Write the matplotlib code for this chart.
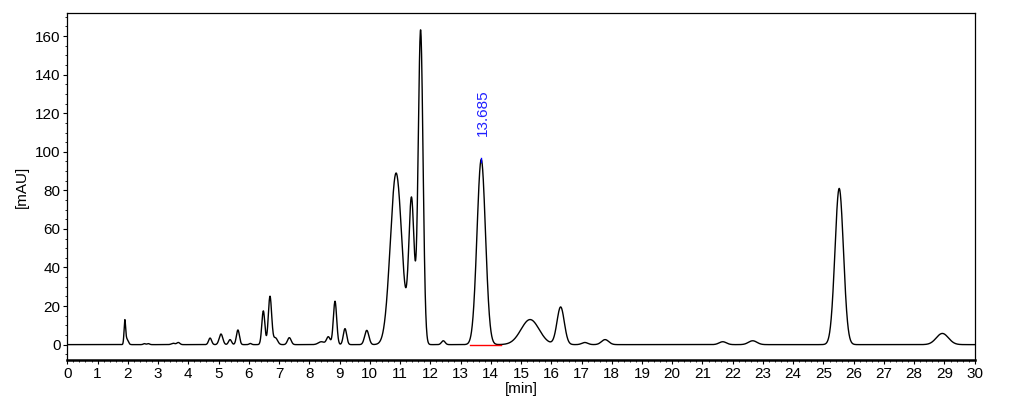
import matplotlib
matplotlib.use("Agg")
import matplotlib.pyplot as plt
from matplotlib.ticker import MultipleLocator
import numpy as np

plt.rcParams['font.family'] = ['Liberation Sans', 'DejaVu Sans']

# peak table: retention time [min], height [mAU], sigma [min]
peak_rt = [1.90, 1.96, 2.55, 2.68, 3.50, 3.67, 4.72, 5.08, 5.38, 5.64, 6.05,
           6.48, 6.70, 6.88, 7.34, 8.40, 8.63, 8.85, 9.18, 9.90,
           10.87, 11.38, 11.68, 12.43, 13.685, 15.30, 16.31, 17.11, 17.78,
           21.67, 22.66, 25.52, 28.93]
peak_h = [11.5, 3.0, 0.5, 0.5, 0.7, 1.1, 3.4, 5.5, 2.6, 7.6, 0.6,
          17.5, 25.0, 3.5, 3.6, 1.5, 4.0, 22.5, 8.3, 7.4,
          89.0, 74.0, 163.0, 2.0, 96.0, 13.0, 19.5, 1.1, 2.6,
          1.5, 2.0, 81.0, 5.8]
peak_w = [0.025, 0.05, 0.04, 0.04, 0.06, 0.05, 0.05, 0.06, 0.05, 0.05, 0.04,
          0.05, 0.055, 0.07, 0.06, 0.10, 0.06, 0.055, 0.055, 0.07,
          0.19, 0.09, 0.08, 0.06, 0.14, 0.30, 0.12, 0.10, 0.12,
          0.12, 0.14, 0.14, 0.20]

label_rt = 13.685
label_text = "13.685"
base_start, base_end = 13.30, 14.35

t = np.linspace(0, 30, 6000)
signal = np.zeros_like(t)
for rt, h, w in zip(peak_rt, peak_h, peak_w):
    signal += h * np.exp(-0.5 * ((t - rt) / w) ** 2)

fig = plt.figure(figsize=(10.11, 4.05), dpi=100)
ax = fig.add_axes([0.0666, 0.111, 0.8975, 0.857])

ax.plot(t, signal, color='black', lw=1.0)

# integration baseline and apex mark of the labelled peak
ax.plot([base_start, base_end], [0, 0], color='red', lw=1.0)
apex = signal[np.argmin(np.abs(t - label_rt))]
ax.plot([label_rt, label_rt], [apex - 1.5, apex + 1], color='blue', lw=1.0)
ax.text(label_rt + 0.05, apex + 12, label_text, rotation=90, color='#2020ff',
        fontsize=11, ha='center', va='bottom')

ax.set_xlim(0, 30)
ax.set_ylim(-8, 172)
ax.xaxis.set_major_locator(MultipleLocator(1))
ax.xaxis.set_minor_locator(MultipleLocator(0.2))
ax.yaxis.set_major_locator(MultipleLocator(20))
ax.yaxis.set_minor_locator(MultipleLocator(5))
ax.tick_params(which='major', direction='out', length=3, width=0.8,
               labelsize=11, pad=2)
ax.tick_params(which='minor', direction='out', length=1.5, width=0.6)

for s in ax.spines.values():
    s.set_linewidth(0.9)
ax.spines['bottom'].set_linewidth(1.8)

ax.set_xlabel('[min]', fontsize=11, labelpad=1)
ax.set_ylabel('[mAU]', fontsize=11, labelpad=4)

fig.savefig('out.png', dpi=100)
